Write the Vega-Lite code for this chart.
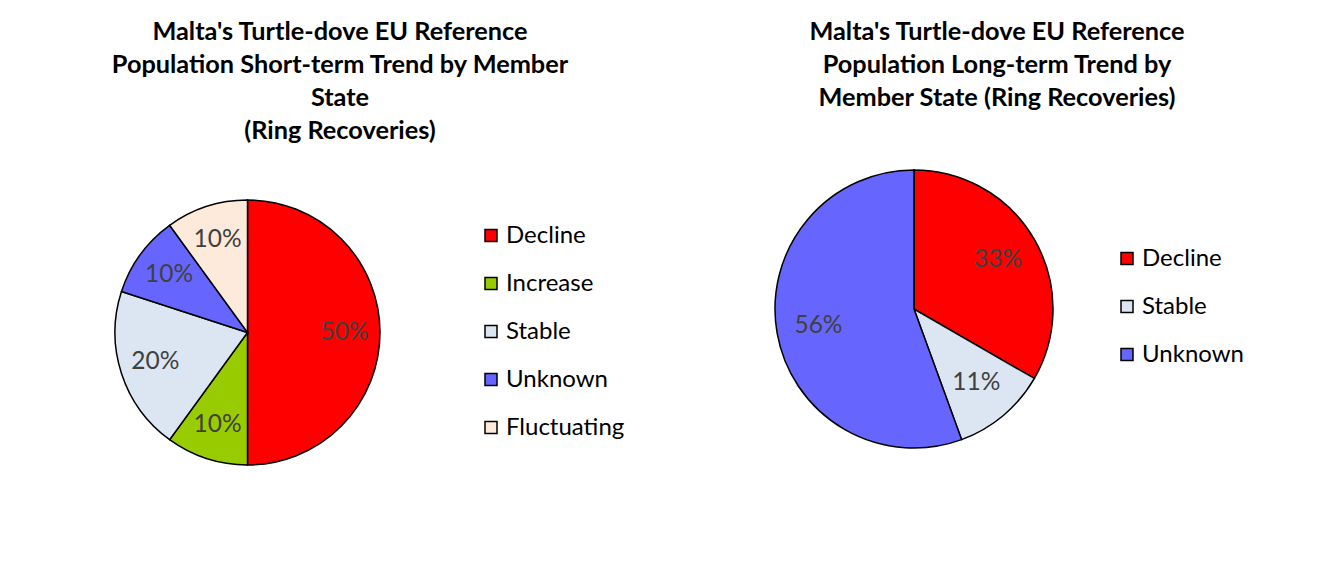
{
  "$schema": "https://vega.github.io/schema/vega-lite/v6.json",
  "background": "white",
  "padding": {"left": 111, "top": 20, "right": 5, "bottom": 5},
  "spacing": 147,
  "config": {
    "view": {"stroke": null},
    "font": "Lato",
    "title": {"fontSize": 25.3, "fontWeight": "bold", "lineHeight": 33, "color": "black", "anchor": "middle", "frame": "group"}
  },
  "resolve": {"scale": {"color": "independent"}, "legend": {"color": "independent"}},
  "datasets": {
    "short": [
      {"trend": "Decline", "share": 0.5, "rank": 1},
      {"trend": "Increase", "share": 0.1, "rank": 2},
      {"trend": "Stable", "share": 0.2, "rank": 3},
      {"trend": "Unknown", "share": 0.1, "rank": 4},
      {"trend": "Fluctuating", "share": 0.1, "rank": 5}
    ],
    "long": [
      {"trend": "Decline", "share": 0.3333, "rank": 1},
      {"trend": "Stable", "share": 0.1111, "rank": 2},
      {"trend": "Unknown", "share": 0.5556, "rank": 3}
    ]
  },
  "hconcat": [
    {
      "title": {"text": ["Malta's Turtle-dove EU Reference", "Population Short-term Trend by Member", "State", "(Ring Recoveries)"], "dx": 92.5, "offset": 25.5},
      "width": 265,
      "height": 325,
      "data": {"name": "short"},
      "encoding": {
        "theta": {"field": "share", "type": "quantitative", "stack": true},
        "order": {"field": "rank", "type": "quantitative"}
      },
      "layer": [
        {
          "mark": {"type": "arc", "stroke": "black", "strokeWidth": 1.5},
          "encoding": {
            "color": {
              "field": "trend", "type": "nominal",
              "scale": {"domain": ["Decline", "Increase", "Stable", "Unknown", "Fluctuating"], "range": ["#FF0000", "#99CC00", "#DCE6F2", "#6666FF", "#FDEADA"]},
              "legend": {"title": null, "orient": "none", "legendX": 364, "legendY": 53.5, "symbolType": "square", "symbolSize": 144, "symbolStrokeColor": "black", "symbolStrokeWidth": 1.5, "symbolOpacity": 1, "labelFontSize": 24, "labelColor": "black", "rowPadding": 24, "labelOffset": 3, "padding": 0}
            }
          }
        },
        {
          "mark": {"type": "text", "radius": 97, "fontSize": 24.5, "fill": "#404040"},
          "encoding": {
            "detail": {"field": "trend", "type": "nominal"},
            "text": {"field": "share", "type": "quantitative", "format": ".0%"}
          }
        }
      ]
    },
    {
      "title": {"text": ["Malta's Turtle-dove EU Reference", "Population Long-term Trend by", "Member State (Ring Recoveries)"], "dx": 83, "offset": 55.5},
      "width": 278,
      "height": 278,
      "data": {"name": "long"},
      "encoding": {
        "theta": {"field": "share", "type": "quantitative", "stack": true},
        "order": {"field": "rank", "type": "quantitative"}
      },
      "layer": [
        {
          "mark": {"type": "arc", "stroke": "black", "strokeWidth": 1.5},
          "encoding": {
            "color": {
              "field": "trend", "type": "nominal",
              "scale": {"domain": ["Decline", "Stable", "Unknown"], "range": ["#FF0000", "#DCE6F2", "#6666FF"]},
              "legend": {"title": null, "orient": "none", "legendX": 340, "legendY": 76.5, "symbolType": "square", "symbolSize": 144, "symbolStrokeColor": "black", "symbolStrokeWidth": 1.5, "symbolOpacity": 1, "labelFontSize": 24, "labelColor": "black", "rowPadding": 24, "labelOffset": 3, "padding": 0}
            }
          }
        },
        {
          "mark": {"type": "text", "radius": 97, "fontSize": 24.5, "fill": "#404040"},
          "encoding": {
            "detail": {"field": "trend", "type": "nominal"},
            "text": {"field": "share", "type": "quantitative", "format": ".0%"}
          }
        }
      ]
    }
  ]
}
